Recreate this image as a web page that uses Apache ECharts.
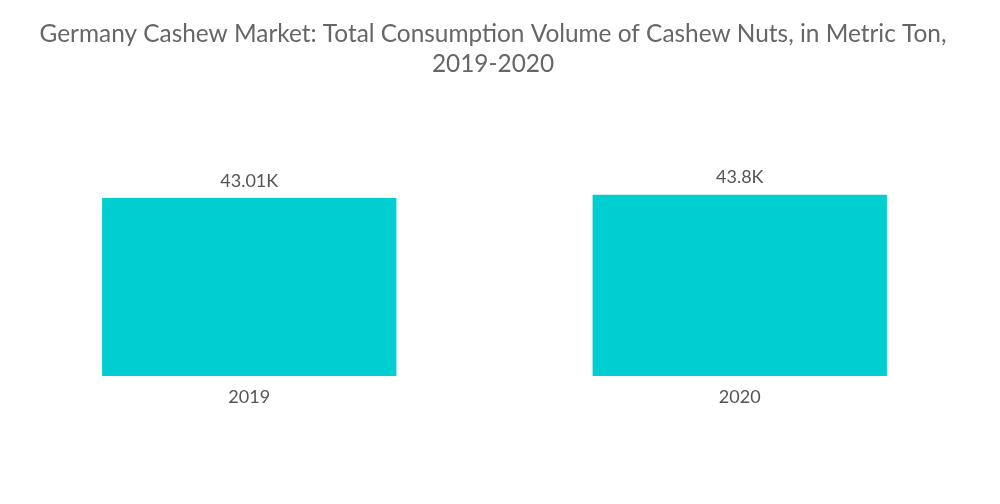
<!DOCTYPE html>
<html><head><meta charset="utf-8">
<script src="https://cdn.jsdelivr.net/npm/echarts@6/dist/echarts.min.js"></script>
<style>html,body{margin:0;padding:0;background:#fff}#c{width:1000px;height:504px}</style>
</head><body><div id="c"></div>
<script>
var categories = ['2019', '2020'];
var values = [43.01, 43.8];
var valueLabels = ['43.01K', '43.8K'];
var chart = echarts.init(document.getElementById('c'));
chart.setOption({
  animation: false,
  title: {
    text: 'Germany Cashew Market: Total Consumption Volume of Cashew Nuts, in Metric Ton,\n2019-2020',
    left: 488, top: 14, textAlign: 'center',
    textStyle: {fontFamily: 'Lato', fontSize: 24.4, fontWeight: 'normal', color: '#666', lineHeight: 30}
  },
  grid: {left: 4, right: 15, top: 169, bottom: 128},
  xAxis: {
    type: 'category', data: categories,
    axisLine: {show: false}, axisTick: {show: false},
    axisLabel: {fontFamily: 'Lato', fontSize: 18, color: '#555', margin: 12}
  },
  yAxis: {type: 'value', min: 0, max: 50, show: false, splitLine: {show: false}},
  series: [{
    type: 'bar', data: values, barWidth: '60%',
    itemStyle: {color: '#00CED1'},
    label: {show: true, position: 'top', distance: 8, fontFamily: 'Lato', fontSize: 18, color: '#555',
      formatter: function (p) { return valueLabels[p.dataIndex]; }}
  }]
});
</script></body></html>
